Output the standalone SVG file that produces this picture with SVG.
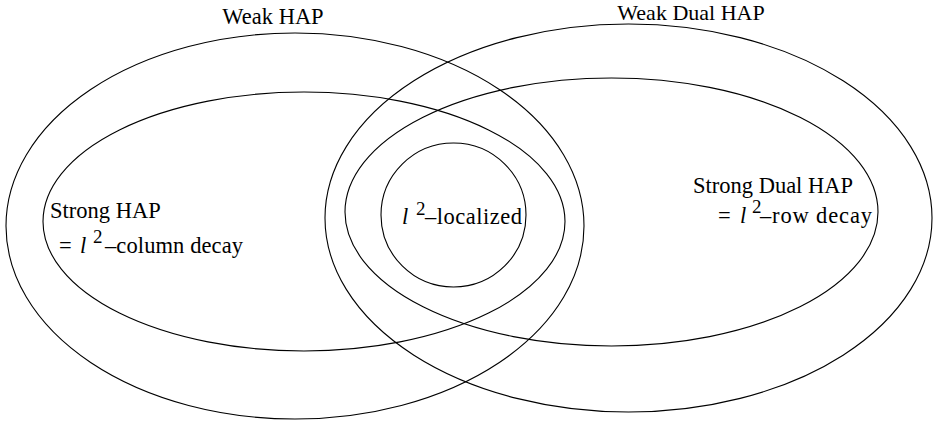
<svg xmlns="http://www.w3.org/2000/svg" width="933" height="429" viewBox="0 0 933 429">
<style>
.set{fill:none;stroke:#000;stroke-width:1.1}
.it{font-style:italic}
.sup{font-size:19px}
</style>
<rect width="933" height="429" fill="#fff"/>
<g font-family="Liberation Serif, Times New Roman, serif" font-size="22.5" fill="#000">
<g id="weak-hap">
<ellipse class="set" cx="295" cy="226" rx="289" ry="193"/>
<text x="273" y="24" text-anchor="middle">Weak HAP</text>
</g>
<g id="strong-hap">
<ellipse class="set" cx="304" cy="221.5" rx="261" ry="129.5"/>
<text x="50" y="218">Strong HAP</text>
<text y="253"><tspan x="59">=</tspan><tspan x="80" class="it">l</tspan><tspan x="93" y="243" class="sup">2</tspan><tspan x="105" y="253" textLength="138">–column decay</tspan></text>
</g>
<g id="weak-dual-hap">
<ellipse class="set" cx="628.5" cy="218" rx="303.5" ry="194"/>
<text x="691" y="20" font-size="22" text-anchor="middle">Weak Dual HAP</text>
</g>
<g id="strong-dual-hap">
<ellipse class="set" cx="611.5" cy="212" rx="266.5" ry="134"/>
<text x="693" y="193">Strong Dual HAP</text>
<text y="223"><tspan x="718">=</tspan><tspan x="740" class="it">l</tspan><tspan x="752" y="213" class="sup">2</tspan><tspan x="760" y="223" textLength="112">–row decay</tspan></text>
</g>
<g id="l2-localized">
<ellipse class="set" cx="453.5" cy="215" rx="72.5" ry="72"/>
<text y="224"><tspan x="402" class="it">l</tspan><tspan x="416" y="215" class="sup">2</tspan><tspan x="425" y="224" textLength="97">–localized</tspan></text>
</g>
</g>
<g id="connectors"/>
</svg>
